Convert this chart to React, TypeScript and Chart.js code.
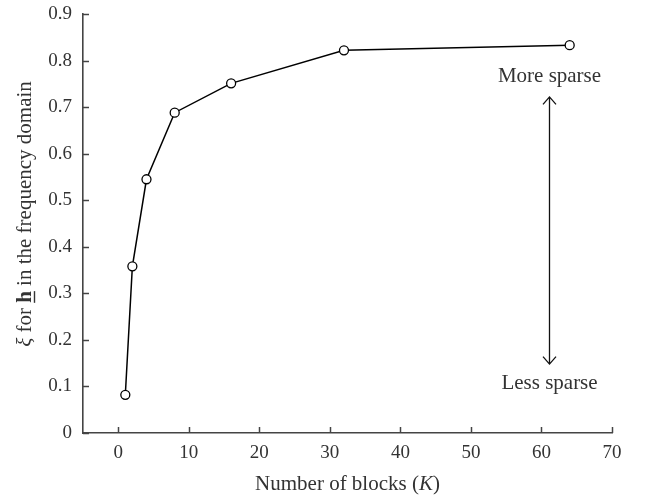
import React, { useEffect, useRef } from "react";
import { Chart, registerables } from "chart.js";

Chart.register(...registerables);

const blocks = [1, 2, 4, 8, 16, 32, 64];
const xiValues = [0.082, 0.358, 0.545, 0.688, 0.751, 0.822, 0.833];
const xTickValues = [0, 10, 20, 30, 40, 50, 60, 70];
const yTickValues = [0, 0.1, 0.2, 0.3, 0.4, 0.5, 0.6, 0.7, 0.8, 0.9];
const arrowX = 61;
const arrowTop = 0.722;
const arrowBottom = 0.148;
const moreLabel = "More sparse";
const moreLabelY = 0.766;
const lessLabel = "Less sparse";
const lessLabelY = 0.106;

const FONT = "'Liberation Serif', 'Times New Roman', serif";
const TEXT = "#333333";
const AXIS = "#444444";

type Piece = { t: string; f: string; u?: boolean };

function drawPieces(ctx: CanvasRenderingContext2D, pieces: Piece[], cx: number, cy: number) {
  let total = 0;
  const widths = pieces.map((p) => {
    ctx.font = p.f;
    const w = ctx.measureText(p.t).width;
    total += w;
    return w;
  });
  let x = cx - total / 2;
  ctx.textBaseline = "alphabetic";
  ctx.textAlign = "left";
  pieces.forEach((p, i) => {
    ctx.font = p.f;
    ctx.fillText(p.t, x, cy);
    if (p.u) {
      ctx.save();
      ctx.strokeStyle = ctx.fillStyle as string;
      ctx.lineWidth = 1.4;
      ctx.beginPath();
      ctx.moveTo(x, cy + 3.5);
      ctx.lineTo(x + widths[i], cy + 3.5);
      ctx.stroke();
      ctx.restore();
    }
    x += widths[i];
  });
}

const decor = {
  id: "decor",
  afterDraw(chart: any) {
    const { ctx, chartArea, scales } = chart;
    const x = scales.x;
    const y = scales.y;
    ctx.save();
    // inward ticks
    ctx.strokeStyle = AXIS;
    ctx.lineWidth = 1.5;
    yTickValues.forEach((v) => {
      const py = Math.round(y.getPixelForValue(v)) + 0.5;
      ctx.beginPath();
      ctx.moveTo(chartArea.left, py);
      ctx.lineTo(chartArea.left + 6, py);
      ctx.stroke();
    });
    xTickValues.forEach((v) => {
      const px = Math.round(x.getPixelForValue(v)) + 0.5;
      ctx.beginPath();
      ctx.moveTo(px, chartArea.bottom);
      ctx.lineTo(px, chartArea.bottom - 6);
      ctx.stroke();
    });

    // arrow
    const ax = Math.round(x.getPixelForValue(arrowX)) + 0.5;
    const at = y.getPixelForValue(arrowTop);
    const ab = y.getPixelForValue(arrowBottom);
    ctx.strokeStyle = "#111";
    ctx.lineWidth = 1.3;
    ctx.beginPath();
    ctx.moveTo(ax, at);
    ctx.lineTo(ax, ab);
    ctx.moveTo(ax - 6.5, at + 7.5);
    ctx.lineTo(ax, at);
    ctx.lineTo(ax + 6.5, at + 7.5);
    ctx.moveTo(ax - 6.5, ab - 7.5);
    ctx.lineTo(ax, ab);
    ctx.lineTo(ax + 6.5, ab - 7.5);
    ctx.stroke();

    ctx.fillStyle = TEXT;
    ctx.font = `21px ${FONT}`;
    ctx.textAlign = "center";
    ctx.textBaseline = "middle";
    ctx.fillText(moreLabel, ax, y.getPixelForValue(moreLabelY));
    ctx.fillText(lessLabel, ax, y.getPixelForValue(lessLabelY));

    // x title
    const xc = (chartArea.left + chartArea.right) / 2;
    drawPieces(
      ctx,
      [
        { t: "Number of blocks (", f: `21px ${FONT}` },
        { t: "K", f: `italic 21px ${FONT}` },
        { t: ")", f: `21px ${FONT}` },
      ],
      xc,
      490
    );

    // y title
    ctx.save();
    ctx.translate(31, 214);
    ctx.rotate(-Math.PI / 2);
    drawPieces(
      ctx,
      [
        { t: "ξ", f: `italic 21px ${FONT}` },
        { t: " for ", f: `21px ${FONT}` },
        { t: "h", f: `bold 21px ${FONT}`, u: true },
        { t: " in the frequency domain", f: `21px ${FONT}` },
      ],
      0,
      0
    );
    ctx.restore();
    ctx.restore();
  },
};

export default function App() {
  const ref = useRef<HTMLCanvasElement | null>(null);
  useEffect(() => {
    if (!ref.current) return;
    const chart = new Chart(ref.current, {
      type: "line",
      data: {
        datasets: [
          {
            data: blocks.map((k, i) => ({ x: k, y: xiValues[i] })),
            borderColor: "#000",
            borderWidth: 1.5,
            pointRadius: 4.5,
            pointBorderWidth: 1.3,
            pointBackgroundColor: "#fff",
            pointBorderColor: "#000",
            pointStyle: "circle",
            tension: 0,
          },
        ],
      },
      options: {
        responsive: false,
        animation: false,
        layout: { padding: { left: 0, top: 14, right: 36, bottom: 0 } },
        plugins: { legend: { display: false }, tooltip: { enabled: false } },
        scales: {
          x: {
            type: "linear",
            min: -5,
            max: 70,
            grid: { display: false, drawTicks: false },
            border: { display: true, color: AXIS, width: 1.6 },
            afterBuildTicks: (s: any) => {
              s.ticks = xTickValues.map((v) => ({ value: v }));
            },
            afterFit: (s: any) => {
              s.height = 63;
              s.paddingLeft = 0;
              s.paddingRight = 0;
            },
            ticks: {
              color: TEXT,
              font: { family: FONT, size: 19 },
              padding: 9,
              maxRotation: 0,
              callback: (v: any) => String(v),
            },
          },
          y: {
            type: "linear",
            min: 0,
            max: 0.9,
            grid: { display: false, drawTicks: false },
            border: { display: true, color: AXIS, width: 1.6 },
            afterBuildTicks: (s: any) => {
              s.ticks = yTickValues.map((v) => ({ value: v }));
            },
            afterFit: (s: any) => {
              s.width = 83;
              s.paddingTop = 0;
              s.paddingBottom = 0;
            },
            ticks: {
              color: TEXT,
              font: { family: FONT, size: 19 },
              padding: 11,
              callback: (v: any) => (v === 0 ? "0" : Number(v).toFixed(1)),
            },
          },
        },
      },
      plugins: [decor],
    });
    return () => chart.destroy();
  }, []);
  return (
    <div style={{ position: "absolute", left: 0, top: 0, width: 648, height: 496 }}>
      <canvas ref={ref} width={648} height={496} style={{ display: "block" }} />
    </div>
  );
}
